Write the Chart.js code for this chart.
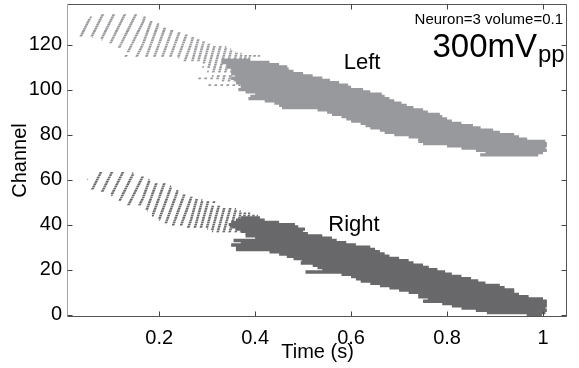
<!DOCTYPE html>
<html lang="en">
<head>
<meta charset="UTF-8">
<meta name="viewport" content="width=device-width, initial-scale=1.0">
<script src="https://cdn.jsdelivr.net/npm/chart.js"></script>
<title>Channel raster</title>
<style>
  body { margin: 0; background: #fff; }
  #chart-container { width: 579px; height: 368px; }
</style>
</head>
<body>
<div id="chart-container"><canvas id="rasterChart"></canvas></div>
<script>
// rows, one per channel (times in s)
// dotStart: where the dotted part starts, solidStart: where the solid part starts, end: where the row ends
var leftChannels   = [71, 72, 73, 74, 75, 76, 77, 78, 79, 80, 81, 82, 83, 84, 85, 86, 87, 88, 89, 90, 91, 92, 93, 94, 95, 96, 97, 98, 99, 100, 101, 102, 103, 104, 105, 106, 107, 108, 109, 110, 111, 112, 113, 114, 115, 116, 117, 118, 119, 120, 121, 122, 123, 124, 125, 126, 127, 128, 129, 130, 131, 132, 133];
var leftDotStart   = [null, null, null, null, null, null, null, null, null, null, null, null, null, null, null, null, null, null, null, null, null, null, null, null, null, null, null, null, null, null, null, 0.30, null, 0.33, 0.275, 0.31, null, 0.30, 0.31, 0.29, 0.30, 0.29, 0.25, 0.24, 0.115, 0.14, 0.13, 0.12, 0.10, 0.10, 0.09, 0.08, 0.06, 0.03, 0.03, 0.035, 0.035, 0.04, 0.04, 0.045, 0.05, 0.055, 0.065];
var leftSolidStart = [0.869, 0.88, 0.86, 0.83, 0.80, 0.75, 0.74, 0.74, 0.72, 0.69, 0.67, 0.66, 0.64, 0.63, 0.62, 0.60, 0.59, 0.58, 0.56, 0.55, 0.53, 0.456, 0.45, 0.44, 0.42, 0.386, 0.39, 0.40, 0.38, 0.365, 0.37, 0.37, 0.36, 0.36, 0.35, 0.36, 0.35, 0.35, 0.35, 0.34, 0.34, 0.33, 0.33, null, null, null, null, null, null, null, null, null, null, null, null, null, null, null, null, null, null, null, null];
var leftEnd        = [0.99, 1.0, 1.008, 1.005, 1.008, 1.008, 1.005, 0.967, 0.95, 0.94, 0.91, 0.896, 0.87, 0.854, 0.83, 0.81, 0.80, 0.79, 0.785, 0.76, 0.75, 0.73, 0.716, 0.705, 0.69, 0.68, 0.67, 0.664, 0.64, 0.625, 0.60, 0.594, 0.575, 0.556, 0.54, 0.52, 0.50, 0.48, 0.47, 0.467, 0.45, 0.43, 0.39, 0.39, 0.41, 0.372, 0.36, 0.35, 0.34, 0.31, 0.30, 0.285, 0.276, 0.268, 0.25, 0.235, 0.222, 0.21, 0.20, 0.19, 0.18, 0.172, 0.165];

var rightChannels   = [0, 1, 2, 3, 4, 5, 6, 7, 8, 9, 10, 11, 12, 13, 14, 15, 16, 17, 18, 19, 20, 21, 22, 23, 24, 25, 26, 27, 28, 29, 30, 31, 32, 33, 34, 35, 36, 37, 38, 39, 40, 41, 42, 43, 44, 45, 46, 47, 48, 49, 50, 51, 52, 53, 54, 55, 56, 57, 58, 59, 60, 61, 62, 63];
var rightDotStart   = [null, null, null, null, null, null, null, null, null, null, null, null, null, null, null, null, null, null, null, null, null, null, null, null, null, null, null, null, null, null, null, null, null, null, null, null, null, 0.31, 0.30, 0.25, 0.216, 0.21, 0.20, 0.19, 0.185, 0.18, 0.175, 0.17, 0.16, 0.13, 0.122, 0.115, 0.11, 0.10, 0.09, 0.07, 0.046, 0.046, 0.05, 0.05, 0.05, 0.055, 0.06, 0.063];
var rightSolidStart = [0.966, 0.883, 0.86, 0.83, 0.81, 0.79, 0.75, 0.76, 0.74, 0.74, 0.72, 0.70, 0.68, 0.66, 0.64, 0.62, 0.61, 0.60, 0.58, 0.505, 0.54, 0.53, 0.52, 0.495, 0.497, 0.48, 0.466, 0.45, 0.43, 0.36, 0.36, 0.35, 0.37, 0.355, 0.40, 0.38, 0.38, 0.37, 0.36, 0.35, 0.345, 0.35, 0.36, 0.37, null, null, null, null, null, null, null, null, null, null, null, null, null, null, null, null, null, null, null, null];
var rightEnd        = [0.998, 1.005, 1.008, 1.005, 1.008, 1.008, 1.008, 1.0, 0.97, 0.95, 0.94, 0.94, 0.92, 0.91, 0.88, 0.865, 0.85, 0.83, 0.81, 0.796, 0.78, 0.762, 0.75, 0.73, 0.72, 0.70, 0.68, 0.67, 0.66, 0.65, 0.64, 0.61, 0.59, 0.57, 0.56, 0.54, 0.51, 0.50, 0.504, 0.49, 0.483, 0.45, 0.42, 0.41, 0.406, 0.39, 0.37, 0.36, 0.33, 0.31, 0.32, 0.29, 0.275, 0.26, 0.25, 0.24, 0.235, 0.225, 0.216, 0.19, 0.18, 0.17, 0.155, 0.146];

var xTickValues = [0.2, 0.4, 0.6, 0.8, 1];
var yTickValues = [0, 20, 40, 60, 80, 100, 120];

var FONT = "'Liberation Sans', Arial, Helvetica, sans-serif";
var leftColor = '#98999c';
var rightColor = '#69696b';

var canvas = document.getElementById('rasterChart');
var ctx = canvas.getContext('2d');

// slanted dotted fill for the spike parts; stripes get closer and steeper to the right
function dotPattern(color, width, rise) {
    var tile = document.createElement('canvas');
    tile.width = width;
    tile.height = rise;
    var g = tile.getContext('2d');
    g.strokeStyle = color;
    g.lineWidth = 2.5;
    var x = 0;
    while (x < width + 20) {
        var gap = x < 140 ? 11 : x < 190 ? 8 : x < 235 ? 6 : 4.5;
        g.beginPath();
        g.moveTo(x, rise);
        g.lineTo(x + gap, 0);
        g.stroke();
        x += gap;
    }
    return ctx.createPattern(tile, 'repeat');
}

function dotRows(channels, dotStart, solidStart, end) {
    var rows = [];
    channels.forEach(function (c, i) {
        if (dotStart[i] !== null) {
            rows.push({ y: c, x: [dotStart[i], solidStart[i] !== null ? solidStart[i] : end[i]] });
        }
    });
    return rows;
}

function solidRows(channels, solidStart, end) {
    var rows = [];
    channels.forEach(function (c, i) {
        if (solidStart[i] !== null) {
            rows.push({ y: c, x: [solidStart[i], end[i]] });
        }
    });
    return rows;
}

var frame = {
    id: 'frame',
    afterDraw: function (chart) {
        var c = chart.ctx, a = chart.chartArea;
        var xs = chart.scales.x, ys = chart.scales.y;
        var L = Math.round(a.left) - 0.5, R = Math.round(a.right) - 0.5;
        var T = Math.round(a.top) + 0.5, B = Math.round(a.bottom) - 0.5;
        c.save();
        c.lineWidth = 1;
        c.strokeStyle = '#555';
        c.beginPath();
        c.moveTo(L, B); c.lineTo(R, B); c.lineTo(R, T); c.lineTo(L, T);
        c.stroke();
        c.strokeStyle = '#a5a5a5';
        c.beginPath();
        c.moveTo(L, T); c.lineTo(L, B);
        c.stroke();
        // inward ticks on all four sides
        c.strokeStyle = '#444';
        c.beginPath();
        xs.ticks.forEach(function (t) {
            var px = Math.round(xs.getPixelForValue(t.value)) + 0.5;
            c.moveTo(px, B); c.lineTo(px, B - 5);
            c.moveTo(px, T); c.lineTo(px, T + 5);
        });
        ys.ticks.forEach(function (t) {
            var py = Math.round(ys.getPixelForValue(t.value)) + 0.5;
            c.moveTo(L, py); c.lineTo(L + 5, py);
            c.moveTo(R, py); c.lineTo(R - 5, py);
        });
        c.stroke();

        // annotations
        c.fillStyle = '#000';
        c.textBaseline = 'alphabetic';
        c.textAlign = 'center';
        c.font = '22px ' + FONT;
        c.fillText('Left', xs.getPixelForValue(0.623), ys.getPixelForValue(109));
        c.fillText('Right', xs.getPixelForValue(0.606), ys.getPixelForValue(37.2));
        c.textAlign = 'right';
        c.font = '15px ' + FONT;
        c.fillText('Neuron=3 volume=0.1', a.right - 4, a.top + 20);
        c.font = '33px ' + FONT;
        c.fillText('300mV', a.right - 30, a.top + 53);
        c.textAlign = 'left';
        c.font = '24px ' + FONT;
        c.fillText('pp', a.right - 29, a.top + 58);
        c.restore();
    }
};

var rasterChart = new Chart(ctx, {
    type: 'bar',
    data: {
        datasets: [
            { label: 'Left spikes', data: dotRows(leftChannels, leftDotStart, leftSolidStart, leftEnd),
              backgroundColor: dotPattern(leftColor, 579, 22), grouped: false, barPercentage: 0.8 },
            { label: 'Left', data: solidRows(leftChannels, leftSolidStart, leftEnd),
              backgroundColor: leftColor, grouped: false, barPercentage: 1.5 },
            { label: 'Right spikes', data: dotRows(rightChannels, rightDotStart, rightSolidStart, rightEnd),
              backgroundColor: dotPattern(rightColor, 579, 22), grouped: false, barPercentage: 0.8 },
            { label: 'Right', data: solidRows(rightChannels, rightSolidStart, rightEnd),
              backgroundColor: rightColor, grouped: false, barPercentage: 1.5 }
        ]
    },
    options: {
        indexAxis: 'y',
        responsive: true,
        maintainAspectRatio: false,
        animation: false,
        events: [],
        layout: { padding: { top: 4, right: 12, left: 0, bottom: 0 } },
        datasets: { bar: { grouped: false, borderWidth: 0, categoryPercentage: 1 } },
        plugins: { legend: { display: false }, tooltip: { enabled: false } },
        scales: {
            x: {
                type: 'linear', position: 'bottom', min: 0.01, max: 1.05,
                grid: { display: false, drawTicks: false },
                border: { display: false },
                afterBuildTicks: function (s) { s.ticks = xTickValues.map(function (v) { return { value: v }; }); },
                afterFit: function (s) { s.height = 51; s.paddingLeft = 0; s.paddingRight = 0; },
                ticks: { color: '#000', font: { family: FONT, size: 20 }, padding: 9, maxRotation: 0, autoSkip: false,
                         callback: function (v) { return String(v); } },
                title: { display: true, text: 'Time (s)', color: '#000', font: { family: FONT, size: 20 }, padding: { top: 0, bottom: 4 } }
            },
            y: {
                type: 'linear', position: 'left', min: -1, max: 138, offset: false,
                grid: { display: false, drawTicks: false, offset: false },
                border: { display: false },
                afterBuildTicks: function (s) { s.ticks = yTickValues.map(function (v) { return { value: v }; }); },
                afterFit: function (s) { s.width = 68; s.paddingTop = 0; s.paddingBottom = 0; },
                ticks: { color: '#000', font: { family: FONT, size: 20 }, padding: 6, autoSkip: false },
                title: { display: true, text: 'Channel', color: '#000', font: { family: FONT, size: 20 }, padding: { top: 8, bottom: 0 } }
            }
        }
    },
    plugins: [frame]
});
</script>
</body>
</html>
